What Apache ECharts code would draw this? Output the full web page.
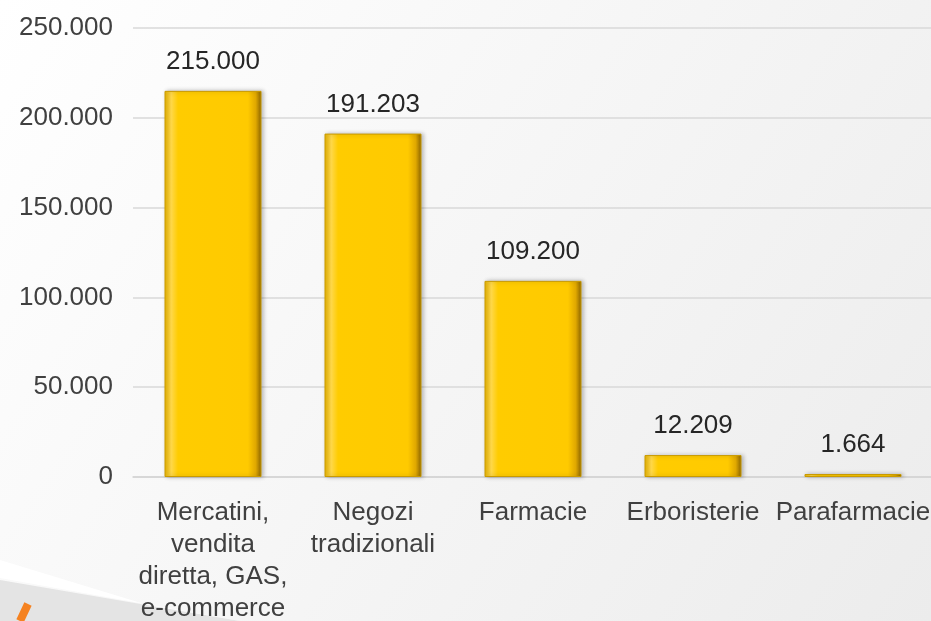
<!DOCTYPE html>
<html>
<head>
<meta charset="utf-8">
<script src="https://cdn.jsdelivr.net/npm/echarts@6/dist/echarts.min.js"></script>
<style>
html, body { margin: 0; padding: 0; }
#chart { width: 931px; height: 621px; }
</style>
</head>
<body>
<div id="chart"></div>
<script>
var categories = ['Mercatini,\nvendita\ndiretta, GAS,\ne-commerce', 'Negozi\ntradizionali', 'Farmacie', 'Erboristerie', 'Parafarmacie'];
var values = [215000, 191203, 109200, 12209, 1664];
var yTicks = [0, 50000, 100000, 150000, 200000, 250000];

function fmt(v) {
    return String(v).replace(/\B(?=(\d{3})+(?!\d))/g, '.');
}

var chart = echarts.init(document.getElementById('chart'));

var goldFill = new echarts.graphic.LinearGradient(0, 0, 1, 0, [
    { offset: 0, color: '#E8B400' },
    { offset: 0.07, color: '#FFD84A' },
    { offset: 0.14, color: '#FFCC00' },
    { offset: 0.86, color: '#FFCA00' },
    { offset: 0.94, color: '#E0A800' },
    { offset: 1, color: '#8A6400' }
]);

chart.setOption({
    backgroundColor: new echarts.graphic.LinearGradient(0, 0, 1, 1, [
        { offset: 0, color: '#FFFFFF' },
        { offset: 1, color: '#ECECEC' }
    ]),
    textStyle: { fontFamily: 'Liberation Sans, Arial, sans-serif' },
    graphic: [
        {
            type: 'polygon',
            silent: true,
            z: -1,
            shape: { points: [[0, 560], [0, 578], [240, 621], [200, 621]] },
            style: { fill: '#FFFFFF' }
        },
        {
            type: 'polygon',
            silent: true,
            z: -1,
            shape: { points: [[0, 580], [240, 621], [0, 621]] },
            style: { fill: '#E4E4E4' }
        },
        {
            type: 'line',
            silent: true,
            shape: { x1: 28, y1: 604, x2: 20, y2: 621 },
            style: { stroke: '#F58220', lineWidth: 8 }
        }
    ],
    grid: {
        left: 133,
        right: -2,
        top: 28,
        bottom: 144,
        outerBoundsMode: 'none'
    },
    xAxis: {
        type: 'category',
        data: categories,
        axisTick: { show: false },
        axisLine: { show: true, lineStyle: { color: '#D4D4D4', width: 1.5 } },
        axisLabel: {
            color: '#404040',
            fontSize: 26,
            lineHeight: 32,
            margin: 20,
            interval: 0
        }
    },
    yAxis: {
        type: 'value',
        min: 0,
        max: 250000,
        interval: 50000,
        axisLine: { show: false },
        axisTick: { show: false },
        splitLine: { lineStyle: { color: '#D9D9D9', width: 1.5 } },
        axisLabel: {
            color: '#404040',
            fontSize: 26,
            margin: 20,
            formatter: function (v) { return yTicks.indexOf(v) >= 0 ? fmt(v) : ''; }
        }
    },
    series: [{
        type: 'bar',
        data: values,
        barWidth: 97,
        itemStyle: {
            color: goldFill,
            borderColor: '#C99A00',
            borderWidth: 1,
            shadowColor: 'rgba(0,0,0,0.25)',
            shadowBlur: 4,
            shadowOffsetX: 2
        },
        label: {
            show: true,
            position: 'top',
            distance: 16,
            color: '#262626',
            fontSize: 26,
            formatter: function (p) { return fmt(p.value); }
        }
    }]
});
</script>
</body>
</html>
